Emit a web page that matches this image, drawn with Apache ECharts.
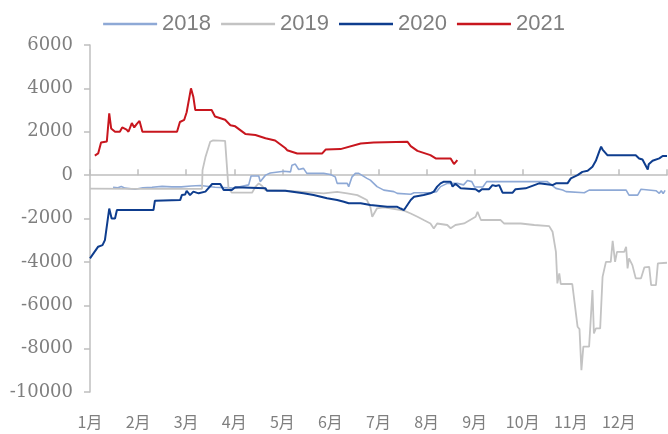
<!DOCTYPE html>
<html>
<head>
<meta charset="utf-8">
<script src="https://cdn.jsdelivr.net/npm/echarts@6/dist/echarts.min.js"></script>
<style>
  html, body { margin: 0; padding: 0; background: #fff; }
  #chart { width: 668px; height: 434px; }
</style>
</head>
<body>
<div id="chart"></div>
<script>
// x = position in months from 1月1日 (0 .. 12)
var monthLabels = ['1月', '2月', '3月', '4月', '5月', '6月', '7月', '8月', '9月', '10月', '11月', '12月'];
var seriesNames = ['2018', '2019', '2020', '2021'];

var data2018 = [
  [0.48, -560], [0.52, -500], [0.58, -580], [0.65, -520], [0.73, -600], [0.94, -650], [1.10, -580],
  [1.29, -560], [1.50, -520], [1.70, -540], [1.90, -540], [2.10, -500], [2.30, -480], [2.60, -560],
  [3.00, -600], [3.30, -450], [3.35, -40], [3.51, -40], [3.54, -300], [3.65, 0], [3.75, 100],
  [4.03, 180], [4.17, 150], [4.20, 460], [4.27, 510], [4.34, 260], [4.44, 310], [4.51, 80],
  [4.86, 80], [5.00, 30], [5.10, -80], [5.14, -380], [5.35, -380], [5.38, -530], [5.45, -80],
  [5.52, 80], [5.59, 80], [5.76, -150], [5.83, -230], [5.97, -530], [6.11, -690], [6.32, -760],
  [6.39, -840], [6.67, -880], [6.74, -810], [7.08, -810], [7.21, -760], [7.29, -530], [7.43, -380],
  [7.64, -380], [7.77, -450], [7.85, -250], [7.94, -300], [8.00, -550], [8.17, -550], [8.25, -300],
  [9.51, -300], [9.55, -380], [9.69, -610], [9.83, -690], [9.90, -760], [10.28, -810], [10.38, -690],
  [11.15, -690], [11.21, -920], [11.39, -920], [11.46, -650], [11.77, -720], [11.84, -840],
  [11.88, -720], [11.92, -850], [11.96, -700]
];

var data2019 = [
  [0, -620], [1.0, -630], [2.33, -630], [2.34, 230], [2.40, 820], [2.50, 1540], [2.56, 1600],
  [2.81, 1580], [2.85, 1500], [2.88, -610], [2.95, -810], [3.37, -810], [3.44, -540], [3.51, -380],
  [3.58, -500], [3.65, -690], [4.06, -720], [4.44, -770], [4.86, -840], [5.14, -770], [5.35, -840],
  [5.56, -920], [5.76, -1150], [5.83, -1460], [5.87, -1920], [5.97, -1530], [6.11, -1490],
  [6.31, -1550], [6.53, -1640], [6.67, -1770], [6.81, -1920], [6.94, -2070], [7.08, -2230],
  [7.15, -2460], [7.22, -2230], [7.43, -2300], [7.50, -2450], [7.60, -2300], [7.78, -2230],
  [8.02, -1920], [8.06, -1690], [8.13, -2070], [8.54, -2070], [8.61, -2230], [8.96, -2230],
  [9.24, -2300], [9.55, -2350], [9.62, -2610], [9.69, -3540], [9.72, -4990], [9.76, -4530],
  [9.79, -5020], [10.03, -5020], [10.14, -6990], [10.18, -7100], [10.22, -8990], [10.26, -7910],
  [10.38, -7910], [10.45, -5300], [10.48, -7300], [10.52, -7070], [10.61, -7070], [10.66, -4690],
  [10.73, -4000], [10.83, -4000], [10.87, -3030], [10.92, -4000], [10.96, -3540], [11.11, -3540],
  [11.15, -3310], [11.18, -4300], [11.21, -3840], [11.28, -4150], [11.35, -4760], [11.46, -4760],
  [11.53, -4250], [11.63, -4230], [11.67, -5070], [11.77, -5070], [11.81, -4070], [12.0, -4040]
];

var data2020 = [
  [0, -3840], [0.04, -3840], [0.17, -3300], [0.26, -3230], [0.31, -3000], [0.40, -1540], [0.45, -2000],
  [0.52, -2000], [0.56, -1610], [1.32, -1610], [1.35, -1180], [1.875, -1150], [1.91, -920],
  [1.98, -890], [2.01, -720], [2.08, -920], [2.15, -760], [2.26, -840], [2.40, -760], [2.54, -410],
  [2.71, -410], [2.78, -690], [2.95, -690], [3.02, -560], [3.65, -610], [3.68, -720], [4.06, -720],
  [4.44, -840], [4.65, -920], [4.93, -1070], [5.14, -1150], [5.28, -1230], [5.38, -1300],
  [5.63, -1300], [5.83, -1380], [6.18, -1460], [6.39, -1460], [6.46, -1540], [6.53, -1610],
  [6.60, -1380], [6.67, -1150], [6.74, -1000], [6.94, -920], [7.08, -840], [7.15, -760],
  [7.22, -530], [7.29, -380], [7.36, -300], [7.50, -300], [7.54, -530], [7.60, -400], [7.71, -610],
  [8.02, -650], [8.09, -760], [8.15, -650], [8.30, -650], [8.37, -460], [8.44, -500], [8.51, -460],
  [8.58, -810], [8.79, -810], [8.85, -650], [9.06, -610], [9.34, -380], [9.62, -460], [9.69, -380],
  [9.93, -380], [10.0, -150], [10.14, 0], [10.24, 150], [10.35, 200], [10.45, 390], [10.52, 660],
  [10.59, 1080], [10.63, 1310], [10.66, 1180], [10.76, 920], [11.35, 920], [11.42, 770],
  [11.49, 720], [11.60, 260], [11.62, 500], [11.70, 660], [11.84, 770], [11.91, 880], [12.0, 880]
];

var data2021 = [
  [0.10, 900], [0.17, 1000], [0.23, 1500], [0.35, 1550], [0.40, 2850], [0.44, 2150], [0.52, 2000],
  [0.62, 2000], [0.67, 2200], [0.76, 2100], [0.80, 2000], [0.87, 2400], [0.92, 2200], [0.97, 2350],
  [1.03, 2500], [1.09, 2000], [1.81, 2000], [1.87, 2450], [1.96, 2550], [2.01, 2900], [2.10, 4000],
  [2.15, 3600], [2.19, 3000], [2.53, 3000], [2.60, 2700], [2.81, 2550], [2.92, 2300], [3.02, 2250],
  [3.23, 1900], [3.44, 1850], [3.65, 1700], [3.85, 1600], [4.06, 1250], [4.10, 1150], [4.31, 1000],
  [4.83, 1000], [4.90, 1180], [5.21, 1200], [5.63, 1460], [5.90, 1500], [6.60, 1540], [6.67, 1340],
  [6.81, 1120], [7.08, 920], [7.19, 770], [7.50, 770], [7.57, 510], [7.64, 690]
];

var yTicks = [6000, 4000, 2000, 0, -2000, -4000, -6000, -8000, -10000];

var chart = echarts.init(document.getElementById('chart'));

function lineSeries(name, data, color, width) {
  return {
    name: name,
    type: 'line',
    xAxisIndex: 0,
    data: data,
    symbol: 'none',
    animation: false,
    lineStyle: { color: color, width: width },
    itemStyle: { color: color }
  };
}

chart.setOption({
  backgroundColor: '#fff',
  legend: {
    data: seriesNames,
    top: 8,
    left: 'center',
    icon: 'rect',
    itemWidth: 54,
    itemHeight: 2.5,
    itemGap: 10,
    textStyle: { fontFamily: 'Liberation Sans', fontSize: 22, color: '#7f7f7f' }
  },
  grid: { left: 90, right: 1, top: 45, bottom: 42 },
  xAxis: [
    {
      // bottom labels only
      type: 'value',
      min: 0,
      max: 12,
      interval: 1,
      position: 'bottom',
      axisLine: { show: false, onZero: false },
      axisTick: { show: false },
      splitLine: { show: false },
      axisLabel: {
        showMaxLabel: false,
        margin: 22,
        fontFamily: 'Noto Sans CJK SC',
        fontSize: 16,
        color: '#7f7f7f',
        formatter: function (v) { return monthLabels[v] || ''; }
      }
    },
    {
      // axis line through zero, ticks pointing up
      type: 'value',
      min: 0,
      max: 12,
      interval: 1,
      position: 'bottom',
      axisLine: { show: true, onZero: true, lineStyle: { color: '#bfbfbf', width: 1.5 } },
      axisTick: { show: true, inside: true, length: 6, lineStyle: { color: '#bfbfbf', width: 1.5 } },
      axisLabel: { show: false },
      splitLine: { show: false }
    }
  ],
  yAxis: {
    type: 'value',
    min: yTicks[yTicks.length - 1],
    max: yTicks[0],
    interval: 2000,
    axisLine: { show: true, lineStyle: { color: '#bfbfbf', width: 1.5 } },
    axisTick: { show: true, length: 6, lineStyle: { color: '#bfbfbf', width: 1.5 } },
    splitLine: { show: false },
    axisLabel: {
      margin: 17,
      fontFamily: 'DejaVu Serif',
      fontSize: 18,
      color: '#7f7f7f',
      formatter: function (v) { return String(v); }
    }
  },
  series: [
    lineSeries('2018', data2018, '#8ea9d6', 1.6),
    lineSeries('2019', data2019, '#c3c3c3', 1.8),
    lineSeries('2020', data2020, '#0e3d8e', 2),
    lineSeries('2021', data2021, '#c8161e', 2)
  ]
});
</script>
</body>
</html>
